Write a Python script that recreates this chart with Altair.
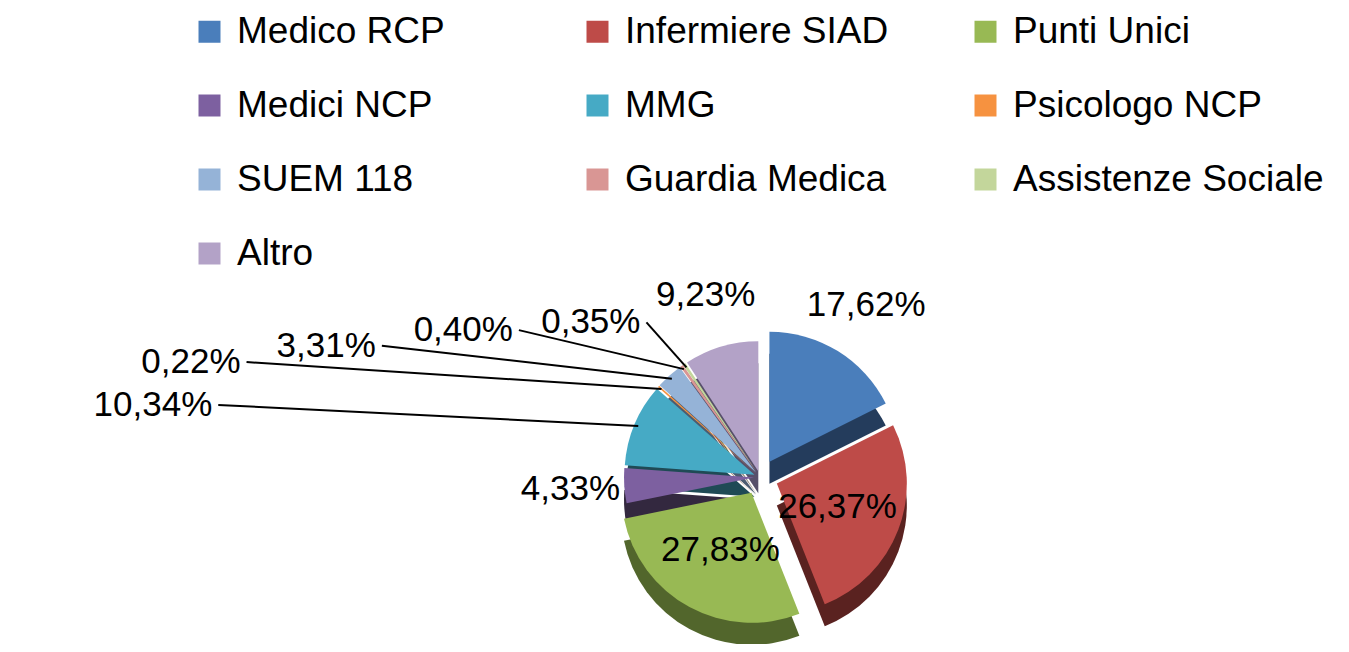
import math
import altair as alt
import pandas as pd

categories = ["Medico RCP", "Infermiere SIAD", "Punti Unici", "Medici NCP", "MMG",
              "Psicologo NCP", "SUEM 118", "Guardia Medica", "Assistenze Sociale", "Altro"]
values = [17.62, 26.37, 27.83, 4.33, 10.34, 0.22, 3.31, 0.40, 0.35, 9.23]

top_colors = ["#4A7EBB", "#BE4B48", "#98B954", "#7D60A0", "#46AAC5",
              "#F69240", "#95B3D7", "#D99694", "#C3D69B", "#B3A2C7"]
side_colors = ["#243C5C", "#5A2220", "#52662C", "#33283F", "#1F4A55",
               "#7A4218", "#4C5C70", "#7A4E4C", "#626E4A", "#57506A"]

df = pd.DataFrame({"cat": categories, "value": values, "idx": list(range(len(categories)))})

CX, CY, R, THICK = 752, 469, 130, 22
FONT = "Liberation Sans"
LABEL_SIZE = 35

base = (
    alt.Chart(df)
    .transform_window(cum="sum(value)", sort=[alt.SortField("idx", order="ascending")],
                      frame=[None, 0])
    .transform_joinaggregate(total="sum(value)")
    .transform_calculate(c0="datum.cum - datum.value")
    .transform_calculate(mid="(datum.cum - datum.value/2)/datum.total*2*PI")
    .transform_calculate(ex="datum.value > 15 ? 18 : 6")
    .transform_calculate(px=f"{CX} + datum.ex*sin(datum.mid)")
    .transform_calculate(py=f"{CY} - datum.ex*cos(datum.mid)")
    .transform_calculate(lab="replace(format(datum.value, '.2f'), '.', ',') + '%'")
    .transform_calculate(leader="datum.value < 12 && datum.mid > 4.9 && datum.mid < 5.8")
)

theta_scale = alt.Scale(domain=[0, 100], range=[0, 2 * math.pi])

dark = base.transform_calculate(pyd=f"datum.py + {THICK}").mark_arc(radius=R, strokeWidth=0).encode(
    theta=alt.Theta("c0:Q", scale=theta_scale),
    theta2="cum:Q",
    x=alt.X("px:Q", scale=None, stack=False, axis=None),
    y=alt.Y("pyd:Q", scale=None, stack=False, axis=None),
    color=alt.Color("cat:N", scale=alt.Scale(domain=categories, range=side_colors), legend=None),
)

top = base.mark_arc(radius=R, strokeWidth=0).encode(
    theta=alt.Theta("c0:Q", scale=theta_scale),
    theta2="cum:Q",
    x=alt.X("px:Q", scale=None, stack=False, axis=None),
    y=alt.Y("py:Q", scale=None, stack=False, axis=None),
    color=alt.Color(
        "cat:N",
        scale=alt.Scale(domain=categories, range=top_colors),
        sort=categories,
        legend=alt.Legend(
            orient="none", legendX=183, legendY=5, columns=3, direction="horizontal",
            title=None, symbolType="square", symbolSize=484, symbolStrokeWidth=0,
            labelFontSize=37, labelFont=FONT, labelColor="#000000", labelLimit=500,
            rowPadding=36, columnPadding=31, gridAlign="all", labelOffset=9,
        ),
    ),
)

radial = (
    base.transform_filter("!datum.leader")
    .transform_calculate(lr=f"datum.value > 20 ? {R}*0.5 + datum.ex : {R} + datum.ex + 54")
    .transform_calculate(lx=f"{CX} + datum.lr*sin(datum.mid)")
    .transform_calculate(ly=f"{CY} - datum.lr*cos(datum.mid)")
    .mark_text(font=FONT, fontSize=LABEL_SIZE, color="#000000", align="center", baseline="middle")
    .encode(
        x=alt.X("lx:Q", scale=None, stack=False, axis=None),
        y=alt.Y("ly:Q", scale=None, stack=False, axis=None),
        text="lab:N",
    )
)

lead_base = (
    base.transform_filter("datum.leader")
    .transform_window(rn="row_number()", sort=[alt.SortField("idx", order="descending")])
    .transform_calculate(k="datum.rn - 1")
    .transform_calculate(exx=f"{CX} + ({R} + datum.ex - 4)*sin(datum.mid)")
    .transform_calculate(exy=f"{CY} - ({R} + datum.ex - 4)*cos(datum.mid)")
    .transform_calculate(lx="datum.exx - min(40 + 125*datum.k, 420)")
    .transform_calculate(ly="datum.exy - (45 - 6*datum.k)")
)

rules = lead_base.mark_rule(color="#000000", strokeWidth=2).encode(
    x=alt.X("exx:Q", scale=None, stack=False, axis=None),
    y=alt.Y("exy:Q", scale=None, stack=False, axis=None),
    x2="lx:Q",
    y2="ly:Q",
)

lead_text = lead_base.mark_text(font=FONT, fontSize=LABEL_SIZE, color="#000000", align="right",
                                baseline="middle", dx=-6).encode(
    x=alt.X("lx:Q", scale=None, stack=False, axis=None),
    y=alt.Y("ly:Q", scale=None, stack=False, axis=None),
    text="lab:N",
)

chart = (
    alt.layer(dark, top, rules, radial, lead_text)
    .resolve_scale(color="independent")
    .properties(width=1333, height=636, autosize="none", padding=0)
    .configure_view(stroke=None)
)

chart.save("out.html", embed_options={"renderer": "svg", "actions": False})
